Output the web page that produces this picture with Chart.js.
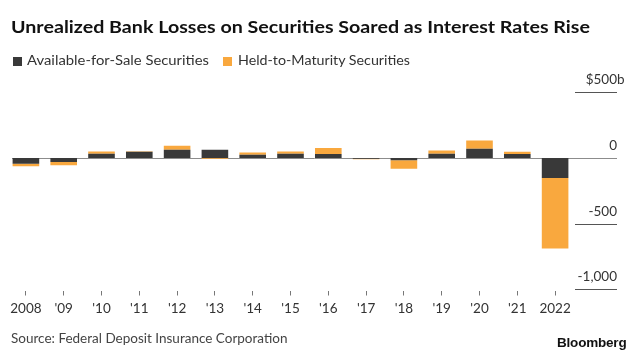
<!DOCTYPE html>
<html>
<head>
<meta charset="utf-8">
<script src="https://cdn.jsdelivr.net/npm/chart.js@4.4.0/dist/chart.umd.min.js"></script>
<style>
html,body{margin:0;padding:0;background:#fff;}
body{width:640px;height:355px;position:relative;overflow:hidden;font-family:Lato,"Noto Sans",sans-serif;}
#wrap{position:absolute;left:0;top:0;width:640px;height:355px;}
.t{position:absolute;white-space:nowrap;transform-origin:0 0;}
#title{left:11px;top:16.5px;font-size:17px;line-height:20px;font-weight:700;color:#111;}
.lg{top:52px;font-size:13.5px;line-height:16px;color:#333;}
.sw{position:absolute;width:9px;height:9px;top:57px;}
#src{left:11px;top:330px;font-size:13.5px;line-height:16px;color:#444;}
#bb{left:557px;top:334.7px;font-family:"Liberation Sans",Arial,sans-serif;font-weight:700;font-size:13.5px;line-height:16px;color:#111;letter-spacing:-0.2px;}
</style>
</head>
<body>
<div id="wrap"><canvas id="c" width="640" height="355"></canvas></div>
<div class="t" id="title">Unrealized Bank Losses on Securities Soared as Interest Rates Rise</div>
<div class="sw" id="sw1" style="left:12.7px;"></div>
<div class="t lg" id="lg1" style="left:27.3px;">Available-for-Sale Securities</div>
<div class="sw" id="sw2" style="left:222.7px;"></div>
<div class="t lg" id="lg2" style="left:238.3px;">Held-to-Maturity Securities</div>
<div class="t" id="src">Source: Federal Deposit Insurance Corporation</div>
<div class="t" id="bb">Bloomberg</div>
<script>
// ---- data ----
const years = ['2008', "'09", "'10", "'11", "'12", "'13", "'14", "'15", "'16", "'17", "'18", "'19", "'20", "'21", '2022'];
const seriesNames = ['Available-for-Sale Securities', 'Held-to-Maturity Securities'];
const afsValues = [-43, -30, 33, 48, 63, 63, 25, 33, 30, -6, -18, 33, 71, 30, -152];
const htmValues = [-20, -26, 17, 4, 30, -6, 17, 17, 46, -3, -63, 25, 63, 17, -538];
const yTicks = [500, 0, -500, -1000];
const yTickLabels = ['$500', '0', '-500', '-1,000'];
const yUnit = 'b';

const colors = ['#393939', '#f9a83e'];
document.getElementById('sw1').style.background = colors[0];
document.getElementById('sw2').style.background = colors[1];

function fit(id, w) {
  const el = document.getElementById(id);
  const nat = el.getBoundingClientRect().width;
  if (nat > 0) el.style.transform = 'scaleX(' + (w / nat) + ')';
}
fit('title', 579);
fit('lg1', 182);
fit('lg2', 172);

const refLines = {
  id: 'refLines',
  beforeDatasetsDraw(chart) {
    const { ctx, chartArea, scales: { y } } = chart;
    const right = chart.width - 23;
    ctx.save();
    ctx.lineWidth = 1;
    yTicks.forEach(v => {
      const py = Math.round(y.getPixelForValue(v)) + 0.5;
      ctx.strokeStyle = v === 0 ? '#8c8c8c' : '#555';
      ctx.beginPath();
      ctx.moveTo(v === 0 ? chartArea.left + 5 : chartArea.right + 1, py);
      ctx.lineTo(right, py);
      ctx.stroke();
    });
    ctx.restore();
  },
  afterDatasetsDraw(chart) {
    const { ctx, scales: { y } } = chart;
    const right = chart.width - 23;
    ctx.save();
    ctx.font = '13.5px Lato, "Noto Sans", sans-serif';
    ctx.fillStyle = '#333';
    ctx.textBaseline = 'alphabetic';
    yTicks.forEach((v, i) => {
      const py = Math.round(y.getPixelForValue(v)) - 8;
      ctx.textAlign = 'right';
      ctx.fillText(yTickLabels[i], right, py);
      if (i === 0) {
        ctx.textAlign = 'left';
        ctx.fillText(yUnit, right, py);
      }
    });
    ctx.restore();
  }
};

new Chart(document.getElementById('c'), {
  type: 'bar',
  data: {
    labels: years,
    datasets: [
      { label: seriesNames[0], data: afsValues, backgroundColor: colors[0], borderWidth: 0 },
      { label: seriesNames[1], data: htmValues, backgroundColor: colors[1], borderWidth: 0 }
    ]
  },
  options: {
    responsive: false,
    animation: false,
    devicePixelRatio: 1,
    layout: { padding: { left: 7, right: 66, top: 75, bottom: 34.5 } },
    plugins: { legend: { display: false }, tooltip: { enabled: false } },
    datasets: { bar: { barPercentage: 0.704, categoryPercentage: 1 } },
    scales: {
      x: {
        stacked: true,
        offset: true,
        border: { display: false },
        grid: { offset: false, drawOnChartArea: false, drawTicks: true, tickLength: 5, color: '#777', lineWidth: 1 },
        ticks: { font: { family: 'Lato, "Noto Sans", sans-serif', size: 13.5 }, color: '#333', padding: 5, maxRotation: 0, autoSkip: false },
        afterFit(s) { s.height = 30; }
      },
      y: { stacked: true, display: false, min: -1009, max: 632 }
    }
  },
  plugins: [refLines]
});
</script>
</body>
</html>
